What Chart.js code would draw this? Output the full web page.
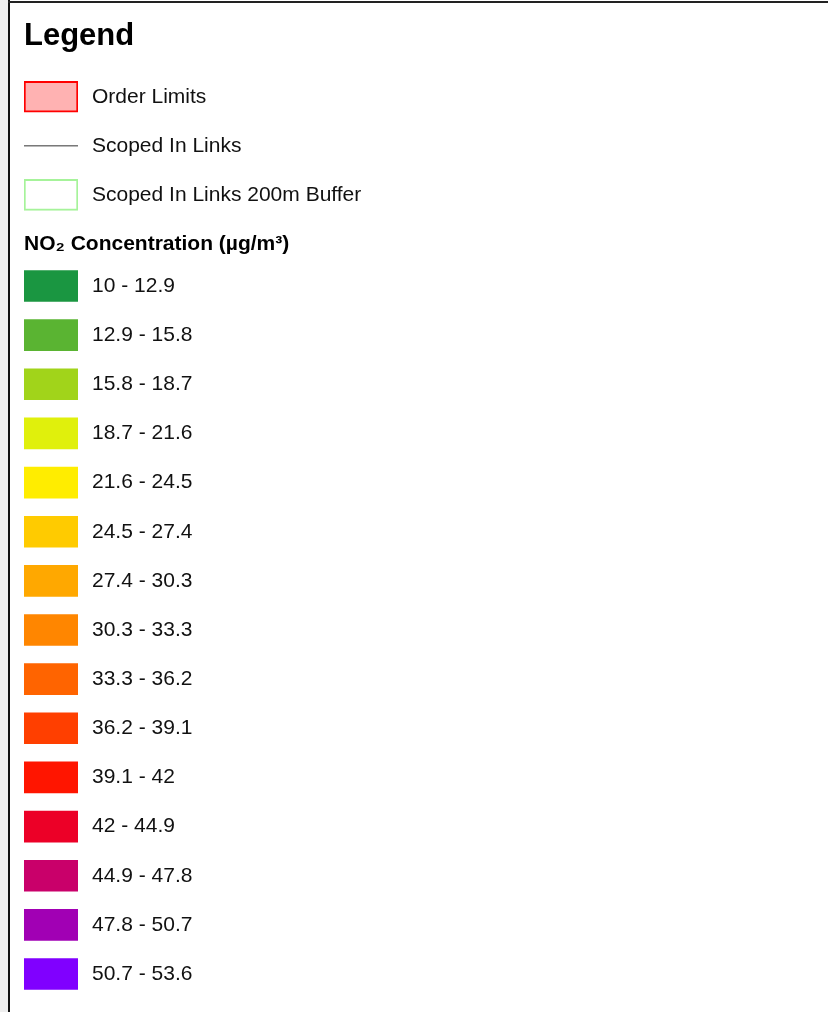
<!DOCTYPE html>
<html>
<head>
<meta charset="utf-8">
<script src="https://cdn.jsdelivr.net/npm/chart.js@4/dist/chart.umd.min.js"></script>
<style>
  html, body { margin: 0; padding: 0; background: #fff; }
  #page { position: relative; width: 828px; height: 1012px; overflow: hidden; background: #fff; }
  #mapEdge { position: absolute; left: 0; top: 0; width: 8px; height: 1012px; background: #eeeeee; }
  #frameLeft { position: absolute; left: 8px; top: 0; width: 2px; height: 1012px; background: #111; }
  #frameTop { position: absolute; left: 8px; top: 1px; width: 820px; height: 2px; background: #222; }
  #topBox { position: absolute; left: 0; top: 0; width: 828px; height: 240px; }
  #rangeBox { position: absolute; left: 0; top: 225px; width: 828px; height: 787px; }
</style>
</head>
<body>
<div id="page">
  <div id="mapEdge"></div>
  <div id="topBox"><canvas id="topChart" width="828" height="240"></canvas></div>
  <div id="rangeBox"><canvas id="rangeChart" width="828" height="787"></canvas></div>
  <div id="frameLeft"></div>
  <div id="frameTop"></div>
</div>
<script>
// legend rows
const topLabels = ['Order Limits', 'Scoped In Links', 'Scoped In Links 200m Buffer'];
const topFill = ['#ffb2b2', null, '#ffffff'];
const topBorder = ['#ff0000', null, '#a6f39a'];
const linkRow = 'Scoped In Links';

const rangeTitle = 'NO₂ Concentration (µg/m³)';
const rangeLabels = [
    '10 - 12.9', '12.9 - 15.8', '15.8 - 18.7', '18.7 - 21.6', '21.6 - 24.5',
    '24.5 - 27.4', '27.4 - 30.3', '30.3 - 33.3', '33.3 - 36.2', '36.2 - 39.1',
    '39.1 - 42', '42 - 44.9', '44.9 - 47.8', '47.8 - 50.7', '50.7 - 53.6'
];
const rangeColors = [
    '#1a9641', '#5ab432', '#a1d41a', '#e0f00c', '#ffed00',
    '#ffcb00', '#ffa800', '#ff8600', '#ff6400', '#ff3f00',
    '#ff1500', '#ec0027', '#c9006a', '#a100b4', '#8000ff'
];
const swatch = [0, 1];

const FONT = "'Liberation Sans', Arial, sans-serif";

// right hand axis holds the text, chart area is just the swatch column
function fixAxisWidth(scale) {
    scale.width = 750;
}

const yAxis = {
    position: 'right',
    grid: {display: false, drawTicks: true, tickLength: 14},
    border: {display: false},
    afterFit: fixAxisWidth,
    ticks: {padding: 0, color: '#111', font: {family: FONT, size: 21}}
};

const topChart = new Chart(document.getElementById('topChart'), {
    type: 'bar',
    data: {
        labels: topLabels,
        datasets: [{
            data: topLabels.map(l => l === linkRow ? null : swatch),
            backgroundColor: topFill,
            borderColor: topBorder,
            borderWidth: 2,
            borderSkipped: false,
            barThickness: 31
        }, {
            type: 'line',
            data: [{x: 0, y: linkRow}, {x: 1, y: linkRow}],
            borderColor: '#333333',
            borderWidth: 1,
            pointRadius: 0
        }]
    },
    options: {
        indexAxis: 'y',
        responsive: false,
        animation: false,
        layout: {padding: {left: 24, top: 0, bottom: 20.5, right: 0}},
        scales: {
            x: {display: false, min: 0, max: 1},
            y: yAxis
        },
        plugins: {
            legend: {display: false},
            tooltip: {enabled: false},
            title: {
                display: true,
                text: 'Legend',
                align: 'start',
                color: '#000',
                font: {family: FONT, size: 31, weight: 'bold'},
                padding: {top: 18, bottom: 17}
            }
        }
    }
});

const rangeChart = new Chart(document.getElementById('rangeChart'), {
    type: 'bar',
    data: {
        labels: rangeLabels,
        datasets: [{
            data: rangeLabels.map(() => swatch),
            backgroundColor: rangeColors,
            borderWidth: 0,
            barThickness: 31
        }]
    },
    options: {
        indexAxis: 'y',
        responsive: false,
        animation: false,
        layout: {padding: {left: 24, top: 0, bottom: 13.4, right: 0}},
        scales: {
            x: {display: false, min: 0, max: 1},
            y: yAxis
        },
        plugins: {
            legend: {display: false},
            tooltip: {enabled: false},
            title: {
                display: true,
                text: rangeTitle,
                align: 'start',
                color: '#000',
                font: {family: FONT, size: 21, weight: 'bold'},
                padding: {top: 6.8, bottom: 4.4}
            }
        }
    }
});
</script>
</body>
</html>
